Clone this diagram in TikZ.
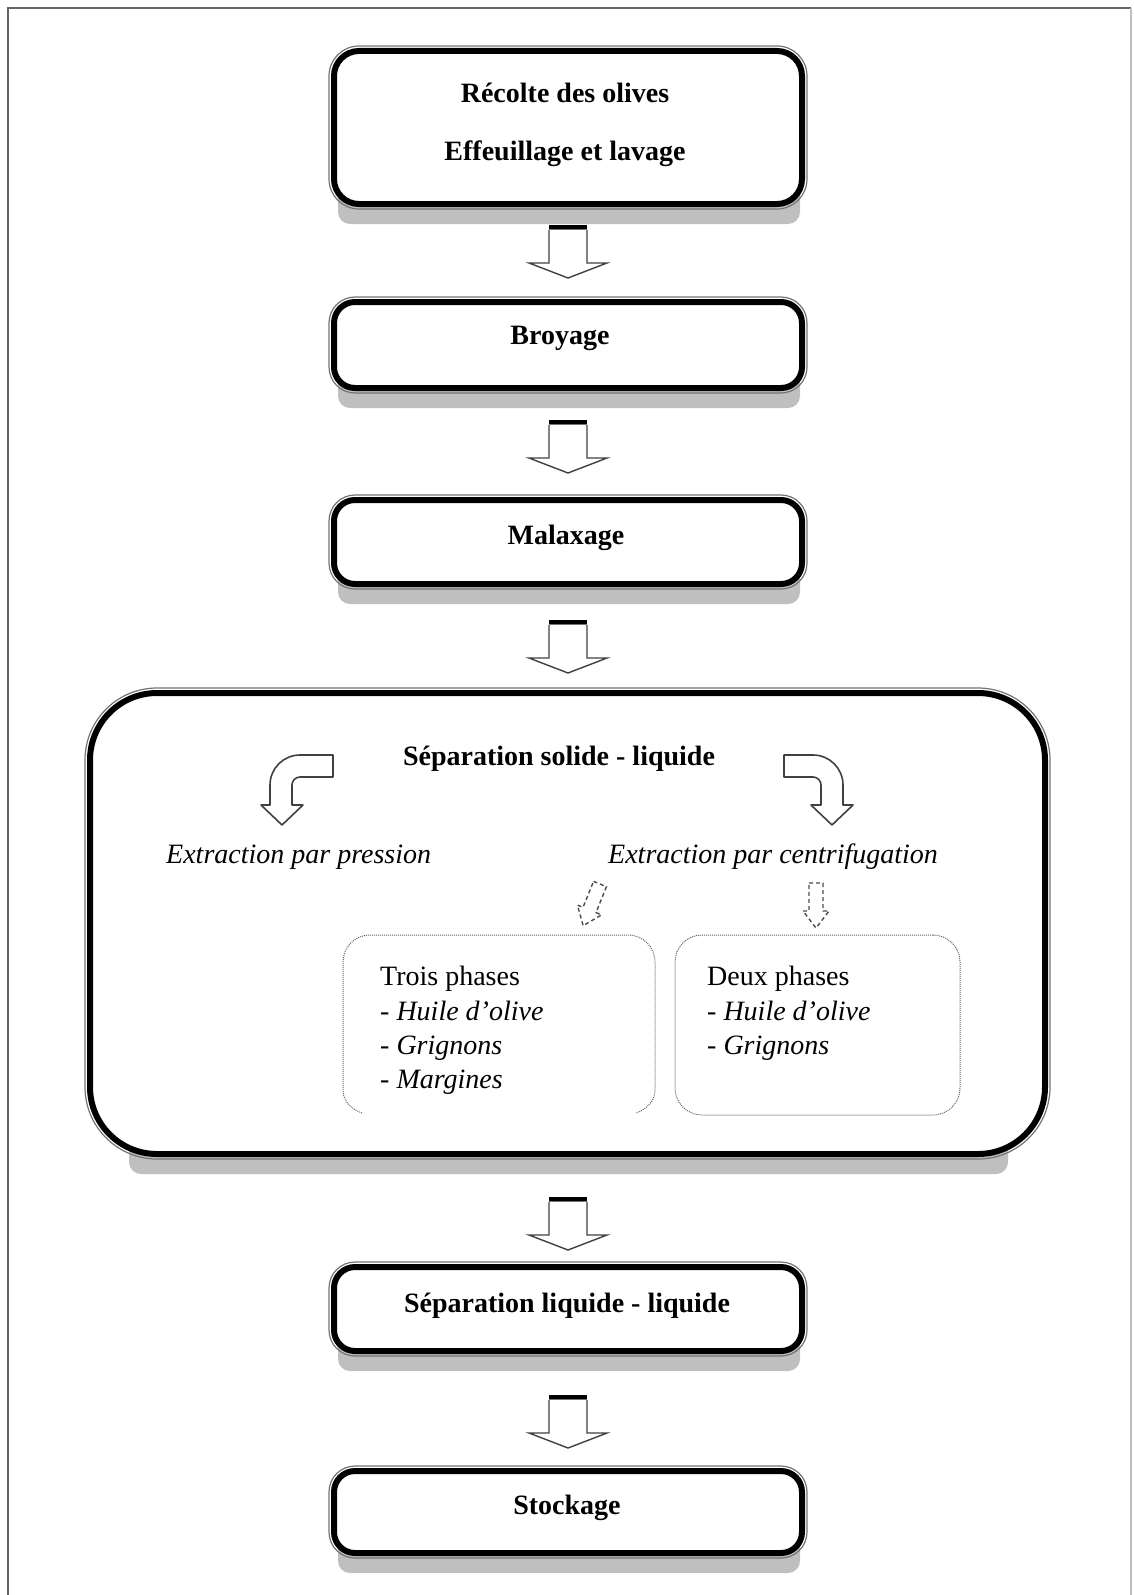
\documentclass[tikz,border=0pt]{standalone}
\usepackage{fontspec}
\setmainfont{Liberation Serif}
\usetikzlibrary{calc}
\tikzset{
  frameline/.style={draw=black!60, line width=2pt},
  boxthick/.style={draw=black, line width=6pt, fill=white, outer sep=0pt, inner sep=0pt},
  boxthin/.style={draw=black!55, line width=1.2pt},
  shadowbar/.style={fill=black!25, draw=none, rounded corners=12pt},
  bfont/.style={font=\fontsize{28}{34}\selectfont\bfseries, inner sep=0pt},
  itfont/.style={font=\fontsize{28}{34}\selectfont\itshape, inner sep=0pt},
  rmfont/.style={font=\fontsize{28}{34}\selectfont, inner sep=0pt},
  blockarrow/.style={draw=black!75, line width=1.4pt, fill=white},
  curvearrow/.style={draw=black!75, line width=1.6pt, fill=white, line join=round},
  dasharrow/.style={draw=black!70, line width=1.4pt, dash pattern=on 4pt off 3pt},
  dotbox/.style={draw=black!60, line width=1pt, dash pattern=on 1pt off 1pt},
  pics/downarrow/.style={code={
    \draw[blockarrow] (-19,5) -- (-19,38) -- (-39,38) -- (0,53) -- (39,38) -- (19,38) -- (19,5);
    \draw[black, line width=3.5pt] (-19,1.75) -- (19,1.75);
    \draw[black!55, line width=1pt] (-19,4.5) -- (19,4.5);
  }}
}
% #1 name, #2 x1, #3 y1, #4 x2, #5 y2 (outer edges), #6 corner radius, #7 shadow inset
\newcommand\mkstep[7]{%
  \fill[shadowbar] (#2+#7,#5-24) rectangle (#4-#7+2,#5+14);
  \draw[boxthin, rounded corners=#6pt] (#2+1,#3+1) rectangle (#4-1,#5-1);
  \node[boxthick, rounded corners=#6pt-5pt, minimum width=#4pt-#2pt-12pt,
        minimum height=#5pt-#3pt-12pt] (#1) at ({(#2+#4)/2},{(#3+#5)/2}) {};
}
\begin{document}
\begin{tikzpicture}[x=1pt,y=-1pt]
\useasboundingbox (0,0) rectangle (1133,1595);
% outer frame
\draw[frameline] (8,1595) -- (8,8) -- (1131,8);
\draw[draw=black!25, line width=1.5pt] (1131,8) -- (1131,1595);

% boxes
\mkstep{recolte}{328}{45}{808}{210}{30}{10}
\mkstep{broyage}{328}{296}{808}{394}{26}{10}
\mkstep{malax}{328}{494}{808}{590}{26}{10}
\mkstep{sepsl}{84}{687}{1051}{1160}{72}{45}
\mkstep{sepll}{328}{1261}{808}{1357}{26}{10}
\mkstep{stock}{328}{1465}{808}{1559}{26}{10}

% texts of boxes
\node[bfont, anchor=base] (t1) at (565,102) {Récolte des olives};
\node[bfont, anchor=base] (t2) at (565,160) {Effeuillage et lavage};
\node[bfont] (t3) at (560,338) {Broyage};
\node[bfont] (t4) at (566,538) {Malaxage};
\node[bfont] (t5) at (559,759) {Séparation solide - liquide};
\node[bfont] (t6) at (567,1306) {Séparation liquide - liquide};
\node[bfont] (t7) at (567,1508) {Stockage};

% block arrows
\pic at (568,225) {downarrow};
\pic at (568,420) {downarrow};
\pic at (568,620) {downarrow};
\pic at (568,1197) {downarrow};
\pic at (568,1395) {downarrow};

% curved arrows
\draw[curvearrow] (333,755) -- (300,755) .. controls (283.4,755) and (270,768.4) .. (270,785)
  -- (270,805) -- (261,805) -- (282,825) -- (303,805) -- (292,805) -- (292,785)
  .. controls (292,780.6) and (295.6,777) .. (300,777) -- (333,777) -- cycle;
\draw[curvearrow] (784,755) -- (813,755) .. controls (829.6,755) and (843,768.4) .. (843,785)
  -- (843,805) -- (853,805) -- (832,825) -- (811,805) -- (821,805) -- (821,785)
  .. controls (821,780.6) and (817.4,777) .. (813,777) -- (784,777) -- cycle;

% italic labels
\node[itfont, anchor=west] (pression) at (166,857) {Extraction par pression};
\node[itfont, anchor=west] (centri) at (608,857) {Extraction par centrifugation};

% dashed arrows
\begin{scope}[shift={(600,884)}, rotate=-22]
  \draw[dasharrow] (-7,0) -- (7,0) -- (7,28) -- (13,28) -- (0,45) -- (-13,28) -- (-7,28) -- cycle;
\end{scope}
\draw[dasharrow] (809,883) -- (823,883) -- (823,911) -- (829,911) -- (816,928) -- (803,911) -- (809,911) -- cycle;

% dotted boxes
\draw[dotbox] (362,1113) .. controls (351,1109) and (343,1101) .. (343,1090) -- (343,962)
  .. controls (343,947) and (355,935) .. (370,935) -- (628,935)
  .. controls (643,935) and (655,947) .. (655,962) -- (655,1090)
  .. controls (655,1101) and (647,1109) .. (636,1113);
\node[dotbox, rounded corners=27pt, minimum width=285pt, minimum height=180pt] (deux) at (817.5,1025) {};

\node[rmfont, anchor=base west] (a1) at (380,985) {Trois phases};
\node[rmfont, anchor=base west] (a2) at (380,1020) {- \textit{Huile d’olive}};
\node[rmfont, anchor=base west] (a3) at (380,1054) {- \textit{Grignons}};
\node[rmfont, anchor=base west] (a4) at (380,1088) {- \textit{Margines}};
\node[rmfont, anchor=base west] (b1) at (707,985) {Deux phases};
\node[rmfont, anchor=base west] (b2) at (707,1020) {- \textit{Huile d’olive}};
\node[rmfont, anchor=base west] (b3) at (707,1054) {- \textit{Grignons}};
\end{tikzpicture}
\end{document}
